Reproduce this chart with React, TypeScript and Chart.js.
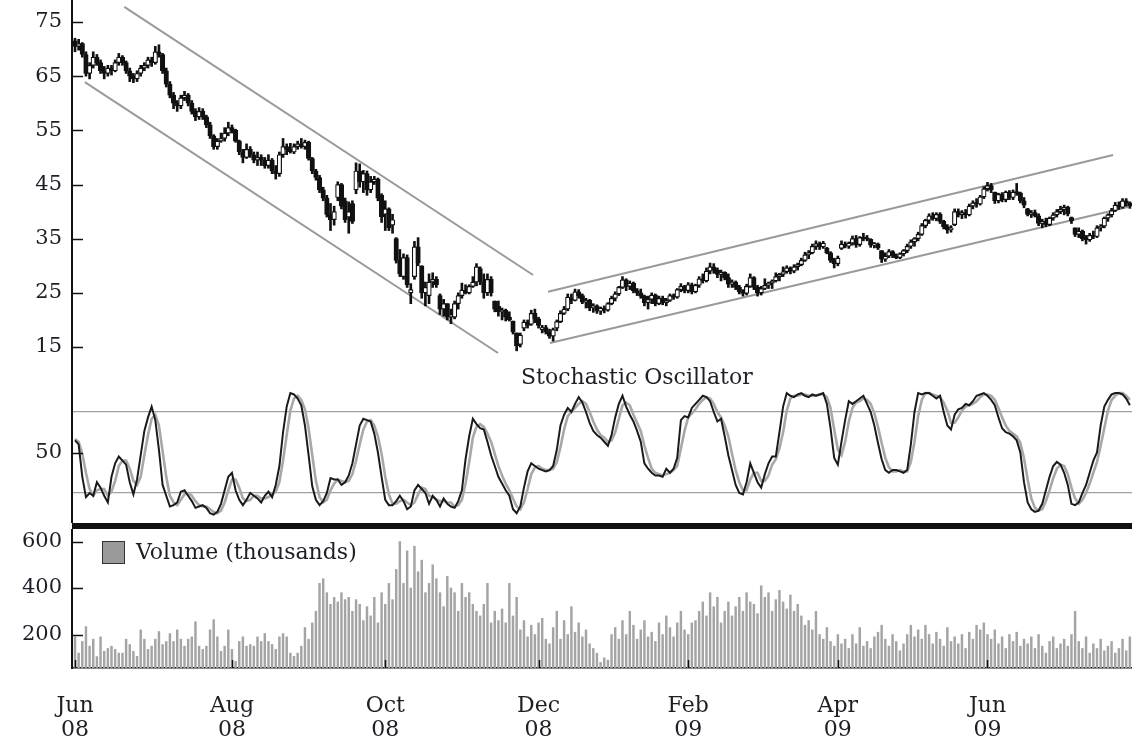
import React, { useEffect, useRef } from 'react';
import { Chart, registerables } from 'chart.js';

Chart.register(...registerables);

const FONT = "'DejaVu Serif', serif";
const TEXT = '#1f1d26';
const X_MIN = -0.822;
const X_MAX = 289.59;

// month tick positions (trading-day index) and labels
const monthTickIdx = [0, 43, 85, 127, 168, 209, 250];
const monthTickLabels = [
  ['Jun', '08'], ['Aug', '08'], ['Oct', '08'], ['Dec', '08'],
  ['Feb', '09'], ['Apr', '09'], ['Jun', '09'],
];
const priceTicks = [15, 25, 35, 45, 55, 65, 75];
const stochTicks = [20, 50, 80];
const volumeTicks = [200, 400, 600];

// daily prices, Jun 2008 - Jul 2009
const opens = [
  71.5, 70.5, 71, 69, 65.5, 67, 68.5, 67.5, 66, 65.5,
  66.5, 66, 67.5, 68.5, 67.5, 66, 65, 64.5, 65.5, 66.5,
  67, 68, 67.5, 69.5, 69, 66, 63.5, 61.5, 60, 59.5,
  61, 61.5, 60, 58.5, 57.5, 58.5, 57.5, 56, 54, 52,
  53, 53.5, 54.5, 55.5, 55, 53, 51, 50, 51.5, 50.5,
  49.5, 50, 49.5, 48.5, 49.5, 47.5, 47, 50.5, 52, 51.5,
  51, 52, 52.5, 52, 52.8, 49.8, 47.5, 46.3, 44, 42.5,
  39.5, 38.5, 42.6, 45, 42, 39, 41.5, 44, 47.5, 45.5,
  47, 44, 45.5, 46, 43, 39.5, 40.5, 37.5, 35, 31,
  28, 31.5, 25, 28, 33.5, 30, 25, 24.5, 27, 27.5,
  24.5, 22, 23, 20.5, 20.5, 23, 24.5, 25.5, 25, 26.2,
  27, 29.5, 27, 25, 27.5, 23.5, 22.5, 21.5, 21.8, 20.5,
  19.8, 17.6, 15.5, 18.5, 19.6, 19.2, 21.2, 20.2, 18.2, 18.6,
  17.8, 17, 18.5, 19.7, 21.2, 22, 24, 23.6, 25.2, 24.5,
  23.3, 23.6, 22.2, 22.6, 21.6, 22.2, 21.8, 23, 24, 24.8,
  26, 27.4, 26.2, 26.8, 25.4, 25, 24.4, 23.2, 23.8, 24.6,
  23, 24, 23.2, 23.6, 24.5, 24.2, 25.6, 26.2, 25.4, 26.5,
  25.2, 26.4, 27.6, 27.2, 29, 29.8, 29.2, 28.4, 28.8, 27.8,
  26.6, 27, 26, 25.2, 24.9, 26.2, 27.8, 26, 25, 25.8,
  26.4, 26.8, 27.2, 28, 28.4, 28.9, 29.6, 29, 29.8, 30.2,
  31, 32, 32.4, 33.6, 34.1, 33.5, 33.2, 32.4, 31, 30.4,
  33.2, 34, 33.6, 34.2, 35, 33.9, 35.2, 35, 34.9, 33.8,
  34, 32.8, 31.2, 31.8, 32.6, 31.8, 31.5, 32.2, 32.8, 33.6,
  34.4, 35, 35.8, 37.4, 38.4, 39.2, 38.7, 39.5, 38.2, 37.2,
  36.6, 37.6, 40, 39.4, 39.8, 39.4, 41, 41.6, 41.4, 42.7,
  44.2, 44.8, 43.6, 42, 43.2, 42.2, 43.6, 42.6, 43.6, 43.4,
  42, 40.5, 39.5, 39.8, 39.2, 37.8, 38.2, 37.6, 38.8, 39.4,
  40, 40.4, 40.8, 38.9, 37, 35.8, 36.4, 35, 34.8, 35.6,
  35.4, 37, 37.3, 38.8, 39.4, 40.2, 41.2, 40.8, 42, 41.6,
];
const highs = [
  72, 71.8, 71.2, 69.5, 67.5, 69.5, 69, 68, 66.8, 67,
  67, 68, 69.2, 68.8, 67.8, 66.5, 65.5, 66, 67, 67.5,
  68.5, 68.5, 70.5, 70.8, 69.2, 66.5, 64, 62, 60.5, 61.5,
  62.2, 61.8, 60.5, 59, 59.2, 59, 57.8, 56.5, 54.2, 53.5,
  54.5, 55.5, 56.5, 56, 55.2, 53.2, 51.5, 52.5, 52, 51,
  51, 50.5, 50, 50.5, 49.8, 48.5, 51, 53.5, 52.5, 52.6,
  52.5, 53, 53.5, 53.2, 53, 50, 47.8, 46.7, 44.5, 43,
  41.5, 41, 45.5, 45.2, 42.5, 41.8, 42, 49, 48.8, 47.6,
  47.5, 46.5, 46.5, 46.2, 43.3, 42, 40.7, 39.5, 35.2, 33,
  32.2, 32, 26.7, 34.5, 35.2, 30, 27, 28.5, 28.7, 28,
  24.8, 23.8, 23, 22, 23.5, 25, 26.8, 26.5, 26.5, 28,
  30.4, 29.8, 28.5, 28.5, 28, 23.5, 23.5, 22.2, 22, 21.5,
  19.8, 17.6, 17.6, 20, 20, 21.8, 22, 20.5, 19, 19,
  18.3, 18.5, 20, 21.7, 22.5, 24.8, 24.8, 25.7, 25.6, 24.8,
  24, 23.8, 23, 22.8, 22.4, 22.6, 23.2, 24.4, 25.2, 26.2,
  28, 27.6, 27.2, 27, 25.8, 25.7, 24.6, 24.4, 25, 24.8,
  24.4, 24.4, 24, 24.8, 24.8, 25.8, 26.7, 26.4, 26.9, 26.8,
  26.6, 28, 28.5, 29.6, 30.5, 30.4, 29.6, 29.2, 28.9, 28.5,
  27.4, 27.2, 26.4, 25.6, 26.6, 28.5, 28, 26.4, 26.2, 27.6,
  27, 27.4, 28.7, 28.6, 29.8, 30, 29.8, 30.2, 30.5, 31.4,
  32.5, 32.8, 34, 34.6, 34.4, 34.5, 33.4, 32.6, 31.4, 31.8,
  34.6, 34.4, 34.4, 35.5, 35.6, 35.4, 36, 35.6, 35, 34.3,
  34.2, 32.8, 32.4, 33, 32.8, 32.2, 32.4, 33, 34, 34.8,
  35.2, 36.2, 37.8, 38.6, 39.6, 39.8, 39.8, 39.8, 38.4, 37.6,
  37.4, 40.5, 40.5, 40.2, 40.4, 41.4, 42, 42.4, 43, 44.6,
  45.4, 45.2, 43.6, 43.4, 43.5, 43.8, 43.9, 44, 45.2, 43.6,
  42.6, 40.6, 40.2, 40.3, 39.6, 38.6, 38.8, 39, 39.8, 40.4,
  41, 41.2, 41, 39, 37, 37, 36.6, 35.6, 36, 36.4,
  37.4, 37.6, 39, 39.6, 40.6, 41.7, 41.8, 42.4, 42.4, 41.8,
];
const lows = [
  69.5, 69.8, 68.5, 65, 64.5, 66.5, 67, 65.5, 64.5, 65,
  65.2, 65.8, 67, 67, 65.5, 64, 63.8, 64, 65, 66,
  66.5, 66.8, 67.2, 68.5, 65.5, 63, 61, 59, 58.5, 59,
  60.5, 59.5, 58, 56.8, 57, 57, 55.5, 53.5, 51.5, 51.5,
  52.8, 53, 54, 54.5, 52.8, 50.5, 49, 49.8, 50, 49,
  48.5, 48.5, 48, 48, 47, 46, 46.5, 50, 50.5, 50.8,
  50.7, 51.5, 51.7, 51.5, 49.5, 47, 45.8, 43.5, 42, 39,
  36.5, 37.5, 42, 40.5, 38, 36, 37.8, 43.3, 44.5, 43.5,
  43, 43.5, 45, 42, 38, 36.5, 36.5, 36, 30.5, 28,
  27.5, 26, 23, 27.5, 30, 24, 22.6, 23, 26, 26,
  21, 20.7, 20, 19.3, 20.2, 22, 24, 24.8, 24.8, 26,
  26.3, 26.5, 24, 24.5, 24.4, 21.5, 20.7, 20, 19.8, 19.8,
  17.4, 14.3, 15, 18, 18.5, 19, 19.5, 18.5, 17.6, 17.4,
  16.6, 16.1, 18, 19.5, 21, 21.7, 23, 23.5, 24, 23,
  22.2, 21.7, 21.4, 21.2, 21, 21.3, 21.6, 22.8, 23.5, 24.5,
  25.8, 25.4, 25.6, 25, 24.5, 24, 22.6, 22, 23, 22.6,
  22.8, 22.8, 22.6, 23.4, 23.8, 24, 25.2, 25, 25, 24.8,
  25, 26, 26.8, 27, 28.5, 28.6, 27.8, 27.2, 27.4, 26,
  26, 25.6, 24.8, 24.4, 24.6, 26, 25.6, 24.4, 24.6, 25.6,
  25.8, 25.8, 27, 27.2, 28, 28.6, 28.5, 28.7, 29.2, 30,
  30.8, 31.3, 32.2, 33, 33, 33.2, 32.2, 30.6, 29.6, 30,
  33, 33.3, 33.2, 33.8, 33.4, 33.6, 34.6, 34.6, 33.4, 33.3,
  33, 30.6, 30.8, 31.5, 31.5, 31.3, 31.3, 31.8, 32.4, 33.2,
  33.6, 34.6, 35.6, 37, 37.8, 38.4, 38.3, 37.8, 36.8, 36,
  36.2, 37.4, 39, 38.7, 38.8, 39.2, 40.5, 40.8, 41.2, 42.4,
  43.8, 43.5, 41.5, 41.6, 41.8, 41.8, 42.2, 42.2, 43, 41.6,
  40.7, 39.2, 38.9, 39, 37.4, 37, 37.2, 37.4, 38.4, 39,
  39.6, 39.4, 39.2, 37.8, 35.4, 35.2, 34.6, 34, 34.5, 35,
  35.2, 36.4, 37, 38.2, 39, 40, 40.4, 40.6, 41, 40.6,
];
const closes = [
  70.5, 71, 69, 65.5, 67, 68.5, 67.5, 66, 65.5, 66.5,
  66, 67.5, 68.5, 67.5, 66, 65, 64.5, 65.5, 66.5, 67,
  68, 67.5, 69.5, 69, 66, 63.5, 61.5, 60, 59.5, 61,
  61.5, 60, 58.5, 57.5, 58.5, 57.5, 56, 54, 52, 53,
  53.5, 54.5, 55.5, 55, 53, 51, 50, 51.5, 50.5, 49.5,
  50, 49.5, 48.5, 49.5, 47.5, 47, 50.5, 52, 51.5, 51,
  52, 52.5, 52, 52.8, 49.8, 47.5, 46.3, 44, 42.5, 39.5,
  38.5, 40, 45, 41, 38.5, 40, 38.2, 47.5, 45.5, 47,
  44, 45.5, 46, 42.5, 39, 40.5, 37, 38.5, 31, 28.5,
  31.5, 26.5, 25.6, 33.5, 30.5, 25, 26, 27, 27.5, 26.5,
  22, 23, 20.5, 21, 23, 24.5, 25.5, 25, 26.2, 27,
  29.8, 27, 25, 27.5, 25, 22, 21.5, 21.8, 20.5, 20,
  17.8, 15.2, 17.2, 19.6, 19, 21.2, 20.2, 19, 18.6, 17.8,
  17, 18.2, 19.7, 21.2, 22, 24.2, 23.6, 25.2, 24.5, 23.3,
  23.6, 22.2, 22.6, 21.6, 22.2, 21.8, 23, 24, 24.8, 26,
  27.4, 26.2, 26.8, 25.4, 25, 24.4, 23.2, 23.8, 24.6, 23,
  24, 23.2, 23.6, 24.5, 24.2, 25.6, 26.2, 25.4, 26.5, 25.2,
  26.4, 27.6, 27.2, 29, 29.8, 29.2, 28.4, 28.8, 27.8, 26.6,
  27, 26, 25.2, 24.9, 26.2, 27.8, 26, 25, 25.8, 26.4,
  26.8, 27.2, 28, 28.4, 28.9, 29.6, 29, 29.8, 30.2, 31,
  32, 32.4, 33.6, 34.1, 33.5, 34.2, 32.4, 31, 30.4, 31.4,
  34, 33.6, 34.2, 35, 33.9, 35.2, 35, 34.9, 33.8, 34,
  33.3, 31.2, 31.8, 32.6, 31.8, 31.5, 32.2, 32.8, 33.6, 34.4,
  35, 35.8, 37.4, 38.4, 39.2, 38.7, 39.5, 38.2, 37.2, 36.6,
  37, 40, 39.4, 39.8, 39.4, 41, 41.6, 41.4, 42.7, 44.2,
  44.8, 44, 42, 43.2, 42.2, 43.6, 42.6, 43.6, 43.4, 42,
  41.2, 39.5, 39.8, 39.2, 37.8, 38.2, 37.6, 38.8, 39.4, 40,
  40.4, 40.8, 39.6, 38.3, 35.8, 36.4, 35, 34.8, 35.6, 35.4,
  37, 37.3, 38.8, 39.4, 40.2, 41.2, 40.8, 42, 41.6, 41,
];

// daily volume, thousands
const volumes = [
  190, 120, 170, 234, 150, 180, 105, 190, 128, 140,
  150, 136, 120, 120, 180, 157, 128, 106, 220, 180,
  136, 150, 180, 213, 157, 170, 204, 170, 220, 180,
  150, 180, 190, 255, 150, 136, 150, 220, 264, 190,
  128, 150, 220, 136, 85, 170, 190, 150, 157, 150,
  190, 170, 204, 170, 157, 136, 190, 204, 190, 120,
  106, 120, 150, 230, 180, 250, 300, 420, 440, 380,
  330, 360, 340, 380, 350, 360, 300, 350, 330, 260,
  320, 280, 360, 250, 380, 330, 420, 350, 480, 600,
  420, 560, 400, 580, 470, 520, 380, 420, 500, 440,
  380, 320, 450, 400, 380, 300, 420, 360, 380, 330,
  300, 280, 330, 420, 250, 300, 260, 310, 250, 420,
  280, 360, 220, 260, 190, 240, 200, 250, 270, 180,
  160, 230, 300, 180, 260, 200, 320, 210, 250, 190,
  220, 160, 140, 120, 80, 100, 90, 200, 230, 180,
  260, 200, 300, 240, 180, 220, 260, 190, 210, 170,
  250, 200, 280, 230, 190, 250, 300, 220, 200, 250,
  260, 300, 340, 280, 380, 320, 360, 250, 300, 340,
  280, 320, 360, 300, 380, 340, 330, 290, 410, 360,
  380, 300, 350, 390, 340, 310, 370, 300, 330, 280,
  240, 260, 220, 300, 200, 180, 230, 170, 150, 200,
  160, 180, 140, 200, 160, 230, 150, 170, 140, 190,
  210, 240, 180, 150, 200, 170, 130, 160, 200, 240,
  190, 220, 180, 240, 200, 160, 210, 180, 150, 230,
  170, 190, 160, 200, 140, 210, 180, 240, 220, 250,
  200, 180, 220, 160, 190, 140, 200, 170, 210, 150,
  180, 160, 190, 140, 200, 150, 120, 170, 190, 140,
  160, 180, 150, 200, 300, 170, 140, 190, 120, 160,
  140, 180, 130, 150, 170, 120, 140, 180, 130, 190,
];

// stochastic oscillator %K (black) and %D (grey)
const stochK = [
  59, 56, 32, 17, 20, 18, 28, 24, 18, 13,
  32, 42, 47, 44, 41, 28, 19, 30, 48, 66,
  76, 84, 74, 52, 26, 18, 10, 11, 13, 21,
  22, 18, 14, 9, 10, 11, 9, 5, 4, 6,
  12, 22, 32, 35, 22, 15, 11, 15, 20, 18,
  16, 13, 18, 21, 17, 26, 40, 65, 84, 94,
  93, 90, 85, 70, 48, 25, 15, 11, 14, 20,
  31, 30, 30, 26, 28, 33, 42, 56, 70, 75,
  74, 73, 64, 50, 32, 15, 11, 11, 14, 18,
  14, 8, 10, 22, 26, 23, 20, 12, 18, 15,
  10, 16, 12, 10, 9, 14, 22, 45, 62, 75,
  71, 68, 67, 58, 48, 40, 32, 27, 22, 18,
  8, 5, 10, 24, 36, 42, 40, 38, 37, 36,
  37, 40, 52, 70, 78, 83, 80, 86, 91, 87,
  80, 72, 66, 63, 61, 58, 55, 63, 76, 86,
  92, 84, 78, 73, 66, 58, 42, 38, 35, 33,
  33, 32, 38, 35, 38, 46, 74, 77, 76, 83,
  86, 89, 92, 91, 88, 80, 73, 75, 62, 48,
  37, 26, 20, 19, 28, 42, 35, 28, 24, 34,
  42, 47, 47, 65, 84, 94, 92, 91, 93, 94,
  92, 91, 93, 92, 93, 94, 86, 68, 46, 41,
  58, 74, 88, 86, 88, 90, 92, 86, 80, 70,
  57, 45, 37, 35, 37, 37, 36, 35, 37, 56,
  80, 94, 93, 94, 94, 92, 90, 92, 80, 70,
  67, 78, 82, 83, 86, 85, 88, 92, 93, 94,
  92, 89, 85, 76, 68, 65, 64, 62, 59, 50,
  28, 13, 8, 6, 7, 12, 22, 32, 40, 43,
  41, 35, 26, 12, 11, 13, 20, 26, 35, 44,
  50, 70, 84, 89, 93, 94, 94, 93, 90, 85,
];
const stochD = [
  60, 58, 49, 35, 23, 18, 22, 23, 23, 18,
  21, 29, 40, 44, 44, 38, 29, 26, 32, 48,
  63, 75, 78, 70, 51, 32, 18, 13, 11, 15,
  19, 20, 18, 14, 11, 10, 10, 8, 6, 5,
  7, 13, 22, 30, 30, 24, 16, 14, 15, 18,
  18, 16, 16, 17, 19, 21, 28, 44, 63, 81,
  90, 92, 89, 82, 68, 48, 29, 17, 13, 15,
  22, 27, 30, 29, 28, 29, 34, 44, 56, 67,
  73, 74, 70, 62, 49, 32, 19, 12, 12, 14,
  15, 13, 11, 13, 19, 24, 23, 18, 17, 15,
  14, 14, 13, 13, 10, 11, 15, 27, 43, 61,
  69, 71, 69, 64, 58, 49, 40, 33, 27, 22,
  16, 10, 8, 13, 23, 34, 39, 40, 38, 37,
  37, 38, 43, 54, 67, 77, 80, 83, 86, 88,
  86, 80, 73, 67, 63, 61, 58, 59, 65, 75,
  85, 87, 85, 78, 72, 66, 55, 46, 38, 35,
  34, 33, 34, 35, 37, 40, 53, 66, 76, 79,
  82, 86, 89, 91, 90, 86, 80, 76, 70, 62,
  49, 37, 28, 22, 22, 30, 35, 35, 29, 29,
  33, 41, 45, 53, 65, 81, 90, 92, 92, 93,
  93, 92, 92, 92, 93, 93, 91, 83, 67, 52,
  48, 58, 73, 83, 87, 88, 90, 89, 86, 79,
  69, 57, 46, 39, 36, 36, 37, 36, 36, 43,
  58, 77, 89, 94, 94, 93, 92, 91, 87, 81,
  72, 72, 76, 81, 84, 85, 86, 88, 91, 93,
  93, 92, 89, 83, 76, 70, 66, 64, 62, 57,
  46, 30, 16, 9, 7, 8, 14, 22, 31, 38,
  41, 40, 34, 24, 16, 12, 15, 20, 27, 35,
  43, 55, 68, 81, 89, 92, 94, 94, 92, 89,
];

// trend channel lines (day index, price)
const downChannelUpper = [{ x: 13.5, y: 77.8 }, { x: 125.5, y: 28.3 }];
const downChannelLower = [{ x: 2.7, y: 63.9 }, { x: 115.9, y: 13.9 }];
const upChannelUpper = [{ x: 129.6, y: 25.2 }, { x: 284.4, y: 50.45 }];
const upChannelLower = [{ x: 130.1, y: 15.75 }, { x: 288.5, y: 40.85 }];

function makeTickPlugin(yVals: number[], xVals: number[]) {
  return {
    id: 'inwardTicks',
    afterDatasetsDraw(chart: any) {
      const { ctx, chartArea } = chart;
      ctx.save();
      ctx.strokeStyle = '#111';
      ctx.lineWidth = 1.5;
      const ys = chart.scales.y;
      yVals.forEach((v) => {
        const py = Math.round(ys.getPixelForValue(v)) + 0.5;
        ctx.beginPath();
        ctx.moveTo(chartArea.left, py);
        ctx.lineTo(chartArea.left + 11, py);
        ctx.stroke();
      });
      const xs = chart.scales.x;
      xVals.forEach((v) => {
        const px = Math.round(xs.getPixelForValue(v)) + 0.5;
        ctx.beginPath();
        ctx.moveTo(px, chartArea.bottom);
        ctx.lineTo(px, chartArea.bottom - 8);
        ctx.stroke();
      });
      ctx.restore();
    },
  };
}

const yAxisFit = (s: any) => {
  s.width = 72;
  s.paddingTop = 0;
  s.paddingBottom = 0;
};

const hiddenX = { type: 'linear', min: X_MIN, max: X_MAX, offset: false, display: false };

export default function App() {
  const priceRef = useRef<HTMLCanvasElement>(null);
  const stochRef = useRef<HTMLCanvasElement>(null);
  const volRef = useRef<HTMLCanvasElement>(null);

  useEffect(() => {
    Chart.defaults.font.family = FONT;
    Chart.defaults.color = TEXT;
    const lineStyle = { type: 'line', borderColor: '#9a9a9a', borderWidth: 2, pointRadius: 0, order: 3 };

    const price = new Chart(priceRef.current as HTMLCanvasElement, {
      type: 'bar',
      data: {
        datasets: [
          {
            type: 'bar',
            label: 'Body',
            data: closes.map((c, i) => ({ x: i, y: [opens[i], c] })),
            backgroundColor: closes.map((c, i) => (c >= opens[i] ? '#ffffff' : '#111111')),
            borderColor: '#111',
            borderWidth: 1.2,
            borderSkipped: false,
            barThickness: 4.5,
            minBarLength: 1.5,
            grouped: false,
            order: 0,
          },
          {
            type: 'bar',
            label: 'Range',
            data: closes.map((_, i) => ({ x: i, y: [lows[i], highs[i]] })),
            backgroundColor: '#111',
            barThickness: 2,
            grouped: false,
            order: 1,
          },
          { ...lineStyle, label: 'a', data: downChannelUpper },
          { ...lineStyle, label: 'b', data: downChannelLower },
          { ...lineStyle, label: 'c', data: upChannelUpper },
          { ...lineStyle, label: 'd', data: upChannelLower },
        ] as any,
      },
      options: {
        animation: false,
        responsive: true,
        maintainAspectRatio: false,
        events: [],
        layout: { padding: 0 },
        plugins: { legend: { display: false }, tooltip: { enabled: false } },
        scales: {
          x: hiddenX as any,
          y: {
            type: 'linear',
            min: 10.76,
            max: 79.06,
            afterBuildTicks: (s: any) => { s.ticks = priceTicks.map((v) => ({ value: v })); },
            afterFit: yAxisFit,
            grid: { display: false, drawTicks: false },
            border: { display: true, color: '#111', width: 2 },
            ticks: { font: { family: FONT, size: 21 }, color: TEXT, padding: 10 },
          },
        },
      },
      plugins: [makeTickPlugin(priceTicks, [])],
    } as any);

    const stoch = new Chart(stochRef.current as HTMLCanvasElement, {
      type: 'line',
      data: {
        datasets: [
          {
            label: '%K',
            data: stochK.map((v, i) => ({ x: i, y: v })),
            borderColor: '#1a1a1a',
            borderWidth: 2,
            pointRadius: 0,
            order: 0,
          },
          {
            label: '%D',
            data: stochD.map((v, i) => ({ x: i, y: v })),
            borderColor: '#a8a8a8',
            borderWidth: 2.6,
            pointRadius: 0,
            order: 1,
          },
        ],
      },
      options: {
        animation: false,
        responsive: true,
        maintainAspectRatio: false,
        events: [],
        layout: { padding: 0 },
        plugins: { legend: { display: false }, tooltip: { enabled: false } },
        scales: {
          x: hiddenX as any,
          y: {
            type: 'linear',
            min: -2.2,
            max: 111.1,
            afterBuildTicks: (s: any) => { s.ticks = stochTicks.map((v) => ({ value: v })); },
            afterFit: yAxisFit,
            grid: {
              display: true,
              drawTicks: false,
              lineWidth: 1.2,
              color: (c: any) => (c.tick && c.tick.value === 50 ? 'rgba(0,0,0,0)' : '#a0a0a0'),
            },
            border: { display: true, color: '#111', width: 2 },
            ticks: {
              font: { family: FONT, size: 21 },
              color: TEXT,
              padding: 10,
              callback: (v: any) => (v === 50 ? '50' : ''),
            },
          },
        },
      },
      plugins: [makeTickPlugin([50], [])],
    } as any);

    const vol = new Chart(volRef.current as HTMLCanvasElement, {
      type: 'bar',
      data: {
        datasets: [
          {
            label: 'Volume (thousands)',
            data: volumes.map((v, i) => ({ x: i, y: v })),
            backgroundColor: '#a4a4a4',
            barThickness: 1.8,
          },
        ],
      },
      options: {
        animation: false,
        responsive: true,
        maintainAspectRatio: false,
        events: [],
        layout: { padding: 0 },
        plugins: { legend: { display: false }, tooltip: { enabled: false } },
        scales: {
          x: {
            type: 'linear',
            min: X_MIN,
            max: X_MAX,
            offset: false,
            afterBuildTicks: (s: any) => { s.ticks = monthTickIdx.map((v) => ({ value: v })); },
            afterFit: (s: any) => { s.height = 78; s.paddingLeft = 0; s.paddingRight = 0; },
            grid: { display: false, drawTicks: false },
            border: { display: true, color: '#111', width: 1.5 },
            ticks: {
              font: { family: FONT, size: 22, lineHeight: 1.1 },
              color: TEXT,
              padding: 26,
              maxRotation: 0,
              autoSkip: false,
              callback: (v: any) => {
                const k = monthTickIdx.indexOf(v);
                return k >= 0 ? monthTickLabels[k] : '';
              },
            },
          },
          y: {
            type: 'linear',
            min: 56,
            max: 654,
            afterBuildTicks: (s: any) => { s.ticks = volumeTicks.map((v) => ({ value: v })); },
            afterFit: yAxisFit,
            grid: { display: false, drawTicks: false },
            border: { display: true, color: '#111', width: 2 },
            ticks: { font: { family: FONT, size: 21 }, color: TEXT, padding: 10 },
          },
        },
      },
      plugins: [makeTickPlugin(volumeTicks, monthTickIdx)],
    } as any);

    return () => {
      price.destroy();
      stoch.destroy();
      vol.destroy();
    };
  }, []);

  return (
    <div style={{ position: 'absolute', left: 0, top: 0, width: 1132, height: 746, background: '#fff', overflow: 'hidden' }}>
      <div style={{ position: 'absolute', left: 0, top: 0, width: 1132, height: 370 }}>
        <canvas ref={priceRef} />
      </div>
      <div style={{ position: 'absolute', left: 0, top: 370, width: 1132, height: 153 }}>
        <canvas ref={stochRef} />
      </div>
      <div style={{ position: 'absolute', left: 72, top: 523, width: 1060, height: 6, background: '#111' }} />
      <div style={{ position: 'absolute', left: 0, top: 529, width: 1132, height: 217 }}>
        <canvas ref={volRef} />
      </div>
      <div style={{ position: 'absolute', left: 521, top: 364, font: `22px ${FONT}`, color: TEXT, lineHeight: '26px', whiteSpace: 'nowrap' }}>
        Stochastic Oscillator
      </div>
      <div style={{ position: 'absolute', left: 102, top: 541, width: 21, height: 21, background: '#9a9a9a', border: '1.5px solid #333' }} />
      <div style={{ position: 'absolute', left: 136, top: 539, font: `22px ${FONT}`, color: TEXT, lineHeight: '26px', whiteSpace: 'nowrap' }}>
        Volume (thousands)
      </div>
    </div>
  );
}
